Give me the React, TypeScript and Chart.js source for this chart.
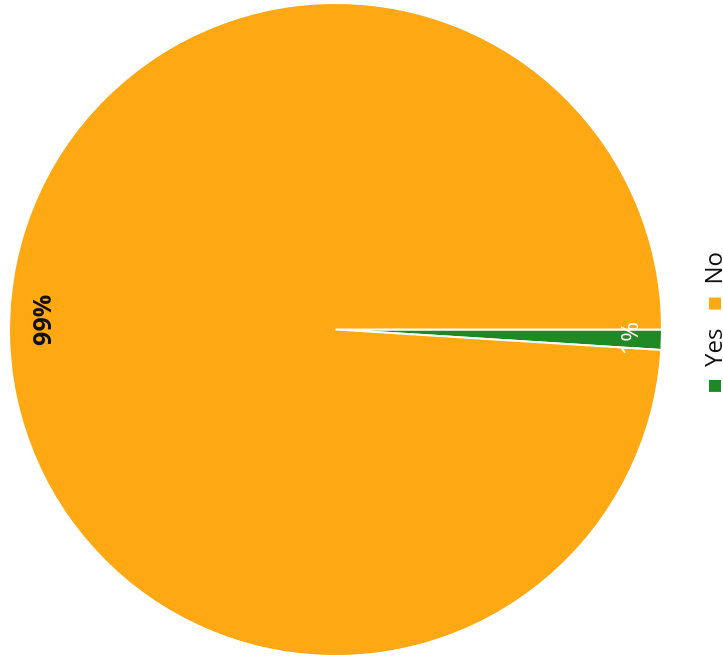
import React, { useEffect, useRef } from "react";
import { Chart, registerables } from "chart.js";

Chart.register(...registerables);

const categories = ["Yes", "No"];
const values = [1, 99];
const percentLabels = ["1%", "99%"];
const colors = ["#1F8A24", "#FEA813"];

const FONT = "'Open Sans', 'DejaVu Sans', sans-serif";

const sliceLabels = {
  id: "sliceLabels",
  afterDatasetsDraw(chart: any) {
    const meta = chart.getDatasetMeta(0);
    const ctx = chart.ctx;
    ctx.save();
    meta.data.forEach((arc: any, i: number) => {
      const { x, y, startAngle, endAngle, outerRadius } = arc.getProps(
        ["x", "y", "startAngle", "endAngle", "outerRadius"],
        true
      );
      const mid = (startAngle + endAngle) / 2;
      const big = i === 1;
      const rr = outerRadius * (big ? 0.893 : 0.905);
      ctx.font = big ? `bold 25px ${FONT}` : `24px ${FONT}`;
      ctx.fillStyle = big ? "#111111" : "#ffffff";
      ctx.textAlign = "center";
      ctx.textBaseline = "middle";
      ctx.fillText(percentLabels[i], x + Math.cos(mid) * rr, y + Math.sin(mid) * rr);
    });
    ctx.restore();
  },
};

const legendPlace = {
  id: "legendPlace",
  afterLayout(chart: any) {
    const l = chart.legend;
    if (!l) return;
    const ca = chart.chartArea;
    const cx = (ca.left + ca.right) / 2;
    const dx = cx + 7 - (l.left + l.right) / 2;
    const dy = 711 - (l.top + l.bottom) / 2;
    l.left += dx;
    l.right += dx;
    l.top += dy;
    l.bottom += dy;
  },
};

export default function App() {
  const ref = useRef<HTMLCanvasElement>(null);
  useEffect(() => {
    if (!ref.current) return;
    const chart = new Chart(ref.current, {
      type: "pie",
      data: {
        labels: categories,
        datasets: [
          {
            data: values,
            backgroundColor: colors,
            borderColor: "#ffffff",
            borderWidth: 2,
          },
        ],
      },
      options: {
        responsive: false,
        maintainAspectRatio: false,
        animation: false,
        rotation: 180,
        layout: { padding: { top: 8, left: 5, right: 2, bottom: 8 } },
        plugins: {
          legend: {
            display: true,
            position: "bottom",
            labels: {
              boxWidth: 14,
              boxHeight: 14,
              padding: 18,
              color: "#111111",
              font: { size: 24, family: FONT },
            },
          },
          tooltip: { enabled: false },
        },
      },
      plugins: [sliceLabels, legendPlace],
    });
    return () => chart.destroy();
  }, []);

  return (
    <div
      style={{
        position: "fixed",
        left: 0,
        top: 662,
        width: 662,
        height: 723,
        transformOrigin: "0 0",
        transform: "rotate(-90deg)",
        background: "#ffffff",
      }}
    >
      <canvas ref={ref} width={662} height={723} style={{ display: "block" }} />
    </div>
  );
}
